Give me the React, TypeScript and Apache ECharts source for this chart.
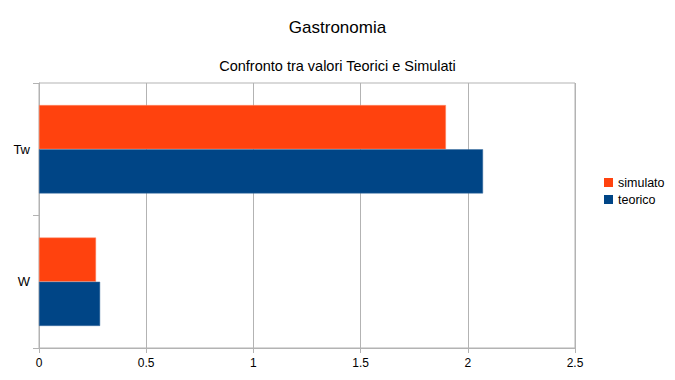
import React, { useEffect, useRef } from "react";
import * as echarts from "echarts";

const categories = ["W", "Tw"];
const simulato = [0.266, 1.898];
const teorico = [0.285, 2.071];
const xTicks = [0, 0.5, 1, 1.5, 2, 2.5];

export default function App() {
  const ref = useRef<HTMLDivElement>(null);
  useEffect(() => {
    if (!ref.current) return;
    const chart = echarts.init(ref.current, null, { renderer: "svg" });
    const font = "'Liberation Sans', Arial, sans-serif";
    chart.setOption({
      animation: false,
      textStyle: { fontFamily: font },
      title: [
        {
          text: "Gastronomia",
          left: "center",
          top: 14,
          textStyle: { fontFamily: font, fontSize: 17, fontWeight: "normal", color: "#000" },
        },
        {
          text: "Confronto tra valori Teorici e Simulati",
          left: "center",
          top: 53,
          textStyle: { fontFamily: font, fontSize: 14.5, fontWeight: "normal", color: "#000" },
        },
      ],
      legend: {
        data: ["simulato", "teorico"],
        orient: "vertical",
        left: 599,
        top: 171,
        itemWidth: 9,
        itemHeight: 9,
        itemGap: 4,
        icon: "rect",
        itemStyle: { borderWidth: 0 },
        textStyle: { fontFamily: font, fontSize: 12.5, color: "#000" },
      },
      grid: {
        left: 39,
        right: 100,
        top: 83,
        bottom: 32,
        show: true,
        borderColor: "#b3b3b3",
        borderWidth: 1,
        containLabel: false,
      },
      xAxis: {
        type: "value",
        min: 0,
        max: xTicks[xTicks.length - 1],
        interval: 0.5,
        axisLine: { show: true, lineStyle: { color: "#b3b3b3" } },
        axisTick: { show: true, length: 5, lineStyle: { color: "#b3b3b3" } },
        axisLabel: { color: "#000", fontSize: 12, fontFamily: font, margin: 9 },
        splitLine: { show: true, lineStyle: { color: "#b3b3b3" } },
      },
      yAxis: {
        type: "category",
        data: categories,
        axisLine: { show: true, lineStyle: { color: "#b3b3b3" } },
        axisTick: { show: true, length: 6, lineStyle: { color: "#b3b3b3" } },
        axisLabel: { color: "#000", fontSize: 13, fontFamily: font, margin: 9 },
        splitLine: { show: false },
      },
      series: [
        {
          name: "simulato",
          type: "bar",
          data: simulato,
          barGap: "0%",
          barCategoryGap: "33.3%",
          itemStyle: { color: "#ff420e", borderColor: "#ff8a6a", borderWidth: 0.5 },
        },
        {
          name: "teorico",
          type: "bar",
          data: teorico,
          barGap: "0%",
          barCategoryGap: "33.3%",
          itemStyle: { color: "#004586", borderColor: "#3d6fa0", borderWidth: 0.5 },
        },
      ],
    });
    return () => chart.dispose();
  }, []);
  return <div ref={ref} style={{ width: 675, height: 380, position: "absolute", left: 0, top: 0 }} />;
}
